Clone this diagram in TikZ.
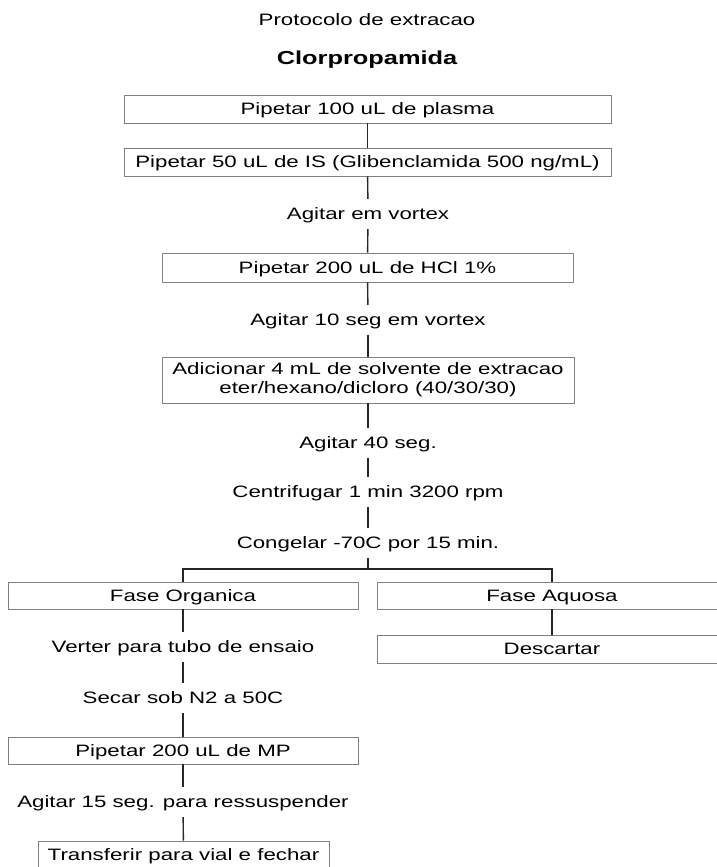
\documentclass[tikz,border=0pt]{standalone}
\usepackage{fontspec}
\setmainfont{Liberation Sans}[FakeStretch=1.35]
\newcommand{\stepfont}{\fontsize{16.5pt}{19pt}\selectfont}
\tikzset{
    stepbox/.style={draw=gray, line width=0.9pt, minimum height=28pt, inner sep=2pt,
        text height=11.8pt, text depth=0pt, font=\stepfont},
    steptext/.style={minimum height=30pt, inner sep=0pt, text height=11.8pt, text depth=0pt, font=\stepfont},
    link/.style={draw=black!85, line width=1.4pt}
}
\begin{document}
\begin{tikzpicture}[x=1pt, y=-1pt]
    \useasboundingbox (0,0) rectangle (717,867);
    \clip (0,0) rectangle (717,867);

    % Titles
    \node (title) at (367,20) {\stepfont Protocolo de extracao};
    \node (drug) at (367,60) {\fontsize{18.8pt}{22pt}\selectfont\bfseries Clorpropamida};

    % Main column
    \node[stepbox, minimum width=487pt] (plasma) at (367.5,109) {Pipetar 100 uL de plasma};
    \node[stepbox, minimum width=487pt] (is) at (367.5,162) {Pipetar 50 uL de IS (Glibenclamida 500 ng/mL)};
    \node[steptext] (vortex) at (368,214) {Agitar em vortex};
    \node[stepbox, minimum width=411pt, minimum height=29pt] (hcl) at (367.5,267.5) {Pipetar 200 uL de HCl 1\%};
    \node[steptext] (vortexten) at (368,320) {Agitar 10 seg em vortex};
    \node[stepbox, minimum width=412pt, minimum height=46pt, align=center, text height=, text depth=] (solvent) at (368,380)
        {Adicionar 4 mL de solvente de extracao\\eter/hexano/dicloro (40/30/30)};
    \node[steptext] (shake) at (368,443) {Agitar 40 seg.};
    \node[steptext] (spin) at (368,492) {Centrifugar 1 min 3200 rpm};
    \node[steptext] (freeze) at (368,543) {Congelar -70C por 15 min.};
    \coordinate (split) at (368,569);

    \draw[link] (plasma) -- (is);
    \draw[link] (is) -- (vortex);
    \draw[link] (vortex) -- (hcl);
    \draw[link] (hcl) -- (vortexten);
    \draw[link] (vortexten) -- (solvent);
    \draw[link] (solvent) -- (shake);
    \draw[link] (shake) -- (spin);
    \draw[link] (spin) -- (freeze);
    \draw[link] (freeze.south) -- (split);

    % Organic phase
    \node[stepbox, minimum width=350pt, minimum height=27pt] (organic) at (183,595.5) {Fase Organica};
    \node[steptext] (pour) at (183,647) {Verter para tubo de ensaio};
    \node[steptext] (dry) at (183,698) {Secar sob N2 a 50C};
    \node[stepbox, minimum width=350pt, minimum height=27pt] (mp) at (183,750.5) {Pipetar 200 uL de MP};
    \node[steptext] (resus) at (183,802) {Agitar 15 seg. para ressuspender};
    \node[stepbox, minimum width=291pt] (vial) at (183.5,855) {Transferir para vial e fechar};

    \draw[link] (organic.north) |- (split);
    \draw[link] (organic) -- (pour);
    \draw[link] (pour) -- (dry);
    \draw[link] (dry) -- (mp);
    \draw[link] (mp) -- (resus);
    \draw[link] (resus) -- (vial);

    % Aqueous phase
    \node[stepbox, minimum width=350pt, minimum height=27pt] (aqueous) at (552,595.5) {Fase Aquosa};
    \node[stepbox, minimum width=350pt] (discard) at (552,649) {Descartar};

    \draw[link] (split) -| (aqueous.north);
    \draw[link] (aqueous) -- (discard);
\end{tikzpicture}
\end{document}
